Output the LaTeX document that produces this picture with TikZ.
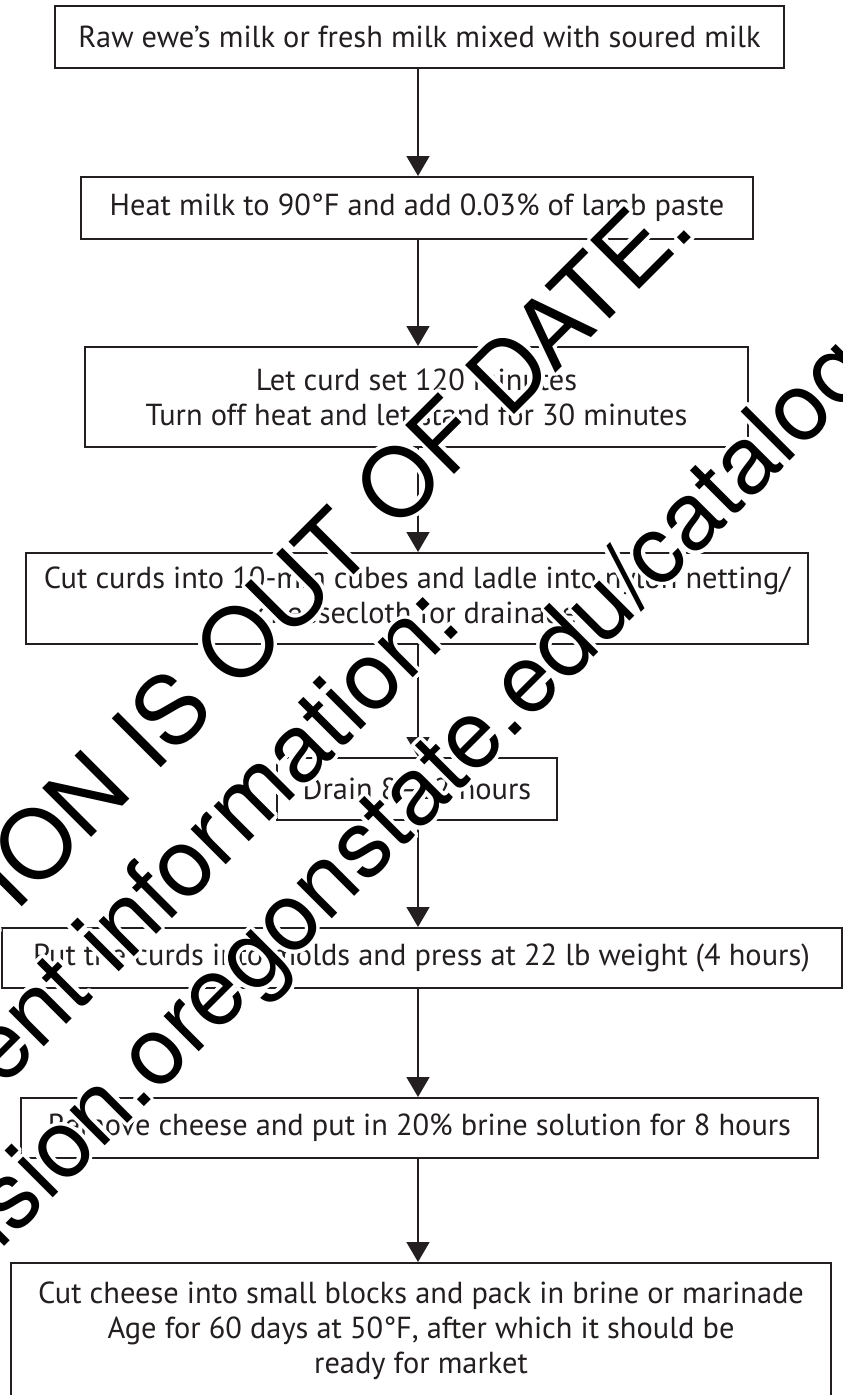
\documentclass[tikz,border=0pt]{standalone}
\usepackage{fontspec}
\setmainfont{PT Sans}
\newfontfamily\wmfont{TeX Gyre Heros}
\usepackage{contour}
\contourlength{3.5pt}
\contournumber{32}
\usetikzlibrary{arrows.meta}
\definecolor{ink}{HTML}{231F20}
\begin{document}
\begin{tikzpicture}[x=1pt,y=-1pt,
  stepbox/.style={draw=ink, line width=2pt, text=ink, inner sep=0pt,
    align=center, font=\fontsize{30.4}{35}\selectfont},
  flow/.style={draw=ink, line width=1.6pt,
    -{Triangle[length=20pt,width=23pt]}},
  wm/.style={anchor=base west, rotate=45, inner sep=0pt, text=black,
    font=\wmfont\fontsize{95}{95}\selectfont}]
  % page
  \fill[white] (0,0) rectangle (843,1395);
  \useasboundingbox (0,0) rectangle (843,1395);
  \clip (0,0) rectangle (843,1395);

  % process steps
  \node[stepbox, minimum width=729pt, minimum height=62pt] (b1) at (419.5,37)
    {Raw ewe’s milk or fresh milk mixed with soured milk};
  \node[stepbox, minimum width=672pt, minimum height=62pt] (b2) at (417,208)
    {Heat milk to 90°F and add 0.03\% of lamb paste};
  \node[stepbox, minimum width=663pt, minimum height=100pt] (b3) at (416.5,397)
    {Let curd set 120 minutes\\Turn off heat and let stand for 30 minutes};
  \node[stepbox, minimum width=782pt, minimum height=91pt] (b4) at (417,598.5)
    {Cut curds into 10-mm cubes and ladle into nylon netting/\\cheesecloth for drainage};
  \node[stepbox, minimum width=280pt, minimum height=62pt] (b5) at (417,789)
    {Drain 8--12 hours};
  \node[stepbox, minimum width=840pt, minimum height=60pt] (b6) at (421.5,958)
    {Put the curds into molds and press at 22 lb weight (4 hours)};
  \node[stepbox, minimum width=797pt, minimum height=60pt] (b7) at (419.5,1128)
    {Remove cheese and put in 20\% brine solution for 8 hours};
  \node[stepbox, minimum width=820pt, minimum height=136pt] (b8) at (421,1331)
    {Cut cheese into small blocks and pack in brine or marinade\\
     Age for 60 days at 50°F, after which it should be\\ready for market};

  % connectors along one vertical spine
  \coordinate (spine) at (418,0);
  \foreach \a/\b in {b1/b2,b2/b3,b3/b4,b4/b5,b5/b6,b6/b7,b7/b8}
    \draw[flow] (\a.south -| spine) -- (\b.north -| spine);

  % notice printed across the page, three left-aligned lines at 45 degrees
  \node[wm] (wm1) at (-476,1405) {\contour{white}{THIS PUBLICATION IS OUT OF DATE.}};
  \node[wm] (wm2) at (-395,1486) {\contour{white}{For most current information:}};
  \node[wm] (wm3) at (-315,1566) {\contour{white}{http://extension.oregonstate.edu/catalog}};
\end{tikzpicture}
\end{document}
